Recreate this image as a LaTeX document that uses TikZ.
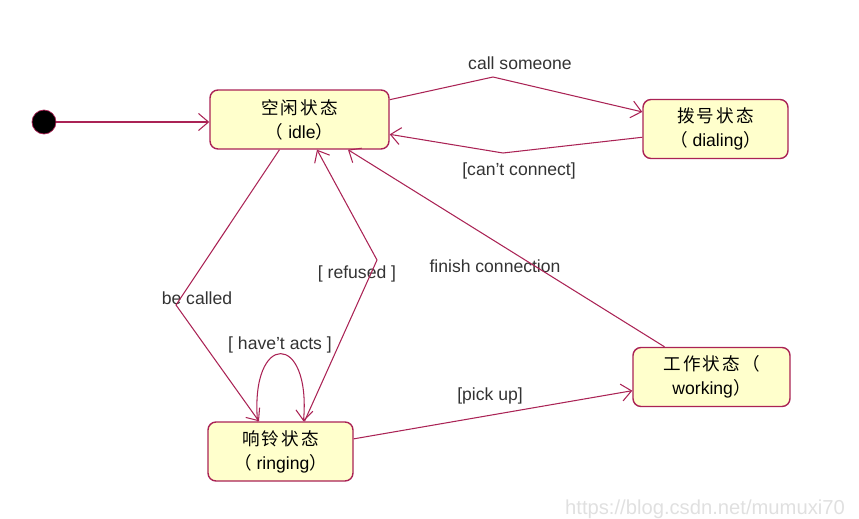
\documentclass[tikz,border=0pt]{standalone}
\usepackage{fontspec}
\setmainfont{Liberation Sans}
\newfontfamily\cjk[LetterSpace=12]{Noto Sans CJK SC}
\newcommand{\zh}[1]{{\cjk #1}}
\usepackage{tikz}
\usetikzlibrary{arrows, arrows.meta}
\usetikzlibrary{shapes.geometric, positioning}
\definecolor{umlline}{RGB}{170,35,85}
\definecolor{umlfill}{RGB}{255,255,204}
\tikzstyle{state} = [rectangle, rounded corners=0.16cm, draw=umlline, fill=umlfill, thick, align=center, font=\fontsize{10}{13.6}\selectfont, minimum height=1.18cm]
\tikzstyle{arrow} = [draw=umlline, semithick, ->, >={Straight Barb[length=2mm,width=3.4mm]}]
\tikzstyle{lbl} = [font=\fontsize{10}{12}\selectfont, text=black!80, inner sep=1pt]

\begin{document}
\begin{tikzpicture}
\useasboundingbox (0,0) rectangle (17.18,-10.36);

\node [circle, draw=umlline, fill=black, minimum size=0.48cm, inner sep=0pt] (init) at (0.88,-2.44) {};
\node [state, minimum width=3.58cm] (idle) at (5.99,-2.39) {\zh{空闲状态}\\\zh{（} idle\zh{）}};
\node [state, minimum width=2.9cm] (dialing) at (14.31,-2.58) {\zh{拨号状态}\\\zh{（} dialing\zh{）}};
\node [state, minimum width=2.9cm] (ringing) at (5.61,-9.03) {\zh{响铃状态}\\\zh{（} ringing\zh{）}};
\node [state, minimum width=3.14cm] (working) at (14.23,-7.54) {\zh{工作状态（}\\working\zh{）}};

\coordinate (callbend) at (9.86,-1.54);
\coordinate (connbend) at (10.06,-3.06);
\coordinate (calledbend) at (3.52,-6.1);
\coordinate (refusedbend) at (7.54,-5.2);

\node [lbl] (callL) at (10.4,-1.26) {call someone};
\node [lbl] (connL) at (10.38,-3.42) {[can't connect]};
\node [lbl] (calledL) at (3.94,-5.96) {be called};
\node [lbl] (refusedL) at (7.14,-5.48) {[ refused ]};
\node [lbl] (actsL) at (5.6,-6.9) {[ have't acts ]};
\node [lbl] (pickL) at (9.8,-7.92) {[pick up]};
\node [lbl] (finishL) at (9.9,-5.32) {finish connection};
\node [font=\fontsize{11.5}{12}\selectfont, text=black!12] (mark) at (14.1,-10.18) {https://blog.csdn.net/mumuxi70};

\draw [arrow] (init) -- (init -| idle.west);

\draw [arrow] (idle) -- (callbend) -- (dialing);
\draw [arrow] (dialing) -- (connbend) -- (idle);

\draw [arrow] (idle) -- (calledbend) -- (ringing);
\draw [arrow] ([xshift=0.48cm]ringing.north) -- (refusedbend) -- ([xshift=0.35cm]idle.south);
\draw [arrow] ([xshift=-0.46cm]ringing.north) .. controls +(-0.15,1.8) and +(0.15,1.8) .. ([xshift=0.46cm]ringing.north);

\draw [arrow] (ringing) to (working);
\draw [arrow] ([xshift=-0.94cm]working.north) to ([xshift=0.97cm]idle.south);

\end{tikzpicture}
\end{document}
